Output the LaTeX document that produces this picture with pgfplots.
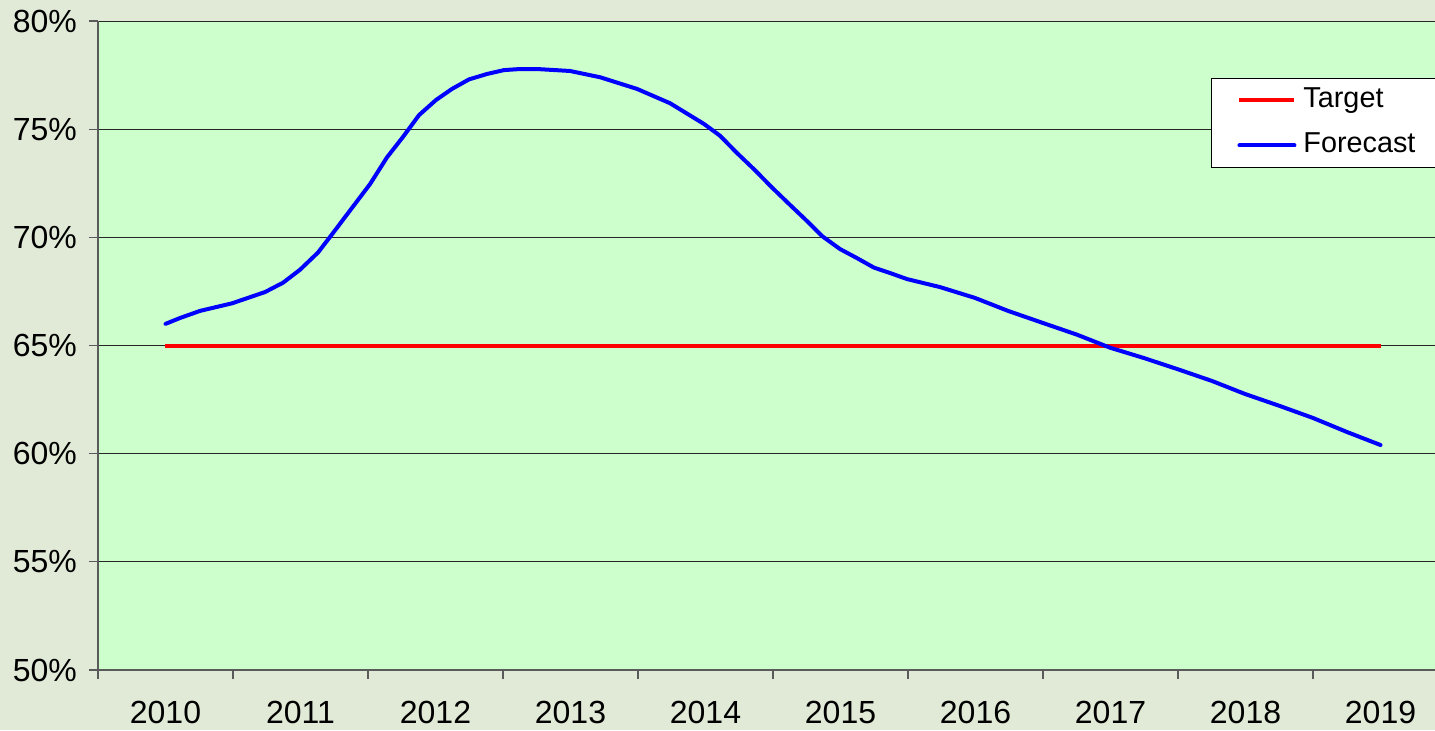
\documentclass[border=0pt]{standalone}
\usepackage{pgfplots}
\pgfplotsset{compat=1.18}
\usepackage{fontspec}
\setmainfont{Liberation Sans}
\definecolor{bgc}{RGB}{224,234,214}
\definecolor{plotc}{RGB}{204,255,204}
\definecolor{axc}{RGB}{90,90,90}
\begin{document}
\begin{tikzpicture}
\fill[bgc] (-49pt,-30pt) rectangle (668.5pt,335pt);
\begin{axis}[
  scale only axis,
  width=675pt, height=324.5pt,
  at={(0pt,0pt)}, anchor=south west,
  xmin=-0.5, xmax=9.5,
  ymin=50, ymax=80,
  axis background/.style={fill=plotc},
  axis x line*=bottom, axis y line*=left,
  axis line style={draw=axc, line width=0.8pt},
  xtick={0,...,9},
  xticklabels={2010,2011,2012,2013,2014,2015,2016,2017,2018,2019},
  minor xtick={-0.5,0.5,...,9.5},
  major x tick style={draw=none},
  minor x tick style={draw=axc, line width=0.6pt},
  minor tick length=4.5pt,
  ytick={50,55,...,80},
  yticklabels={50\%,55\%,60\%,65\%,70\%,75\%,80\%},
  y tick style={draw=axc, line width=0.6pt},
  major tick length=4.5pt,
  tick align=outside,
  ymajorgrids,
  grid style={draw=black!85, line width=0.5pt},
  ticklabel style={font=\fontsize{16}{19}\selectfont},
  xticklabel style={yshift=-7.5pt},
  yticklabel style={xshift=-2.5pt},
  /pgf/number format/assume math mode=true,
  legend style={at={(0.8244,0.9122)}, anchor=north west, draw=black, line width=0.5pt, fill=white,
    font=\fontsize{14.4}{17}\selectfont, inner xsep=13pt, inner ysep=3pt,
    row sep=6.5pt, column sep=2pt,
    nodes={inner sep=1.5pt, text depth=3pt, text height=10pt}},
  legend cell align=left,
  legend image code/.code={\draw[#1] (0pt,0pt) -- (27.5pt,0pt);},
]
\addplot[red, line width=2pt] coordinates {(0,65) (9,65)};
\addlegendentry{Target}
\addplot[blue, line width=2pt, line join=round, line cap=round] coordinates {
(0,66.0) (0.107,66.27) (0.256,66.6) (0.493,66.95) (0.737,67.47) (0.870,67.9)
(0.996,68.5) (1.130,69.3) (1.241,70.2) (1.374,71.3) (1.515,72.46) (1.641,73.7)
(1.759,74.64) (1.878,75.65) (2.004,76.35) (2.122,76.86) (2.248,77.3) (2.381,77.55)
(2.507,77.73) (2.626,77.78) (2.752,77.78) (2.996,77.69) (3.219,77.4) (3.493,76.86)
(3.737,76.2) (3.989,75.24) (4.107,74.7) (4.233,73.9) (4.367,73.1) (4.493,72.3)
(4.626,71.5) (4.744,70.8) (4.863,70.06) (4.996,69.46) (5.122,69.04) (5.248,68.6)
(5.367,68.35) (5.493,68.07) (5.737,67.7) (5.996,67.2) (6.241,66.6) (6.500,66.04)
(6.752,65.5) (6.996,64.9) (7.248,64.42) (7.500,63.9) (7.752,63.36) (7.996,62.76)
(8.256,62.2) (8.500,61.65) (8.752,61.0) (9.0,60.4)};
\addlegendentry{Forecast}
\end{axis}
\pgfresetboundingbox
\useasboundingbox (-49pt,-30pt) rectangle (668.5pt,335pt);
\end{tikzpicture}
\end{document}
